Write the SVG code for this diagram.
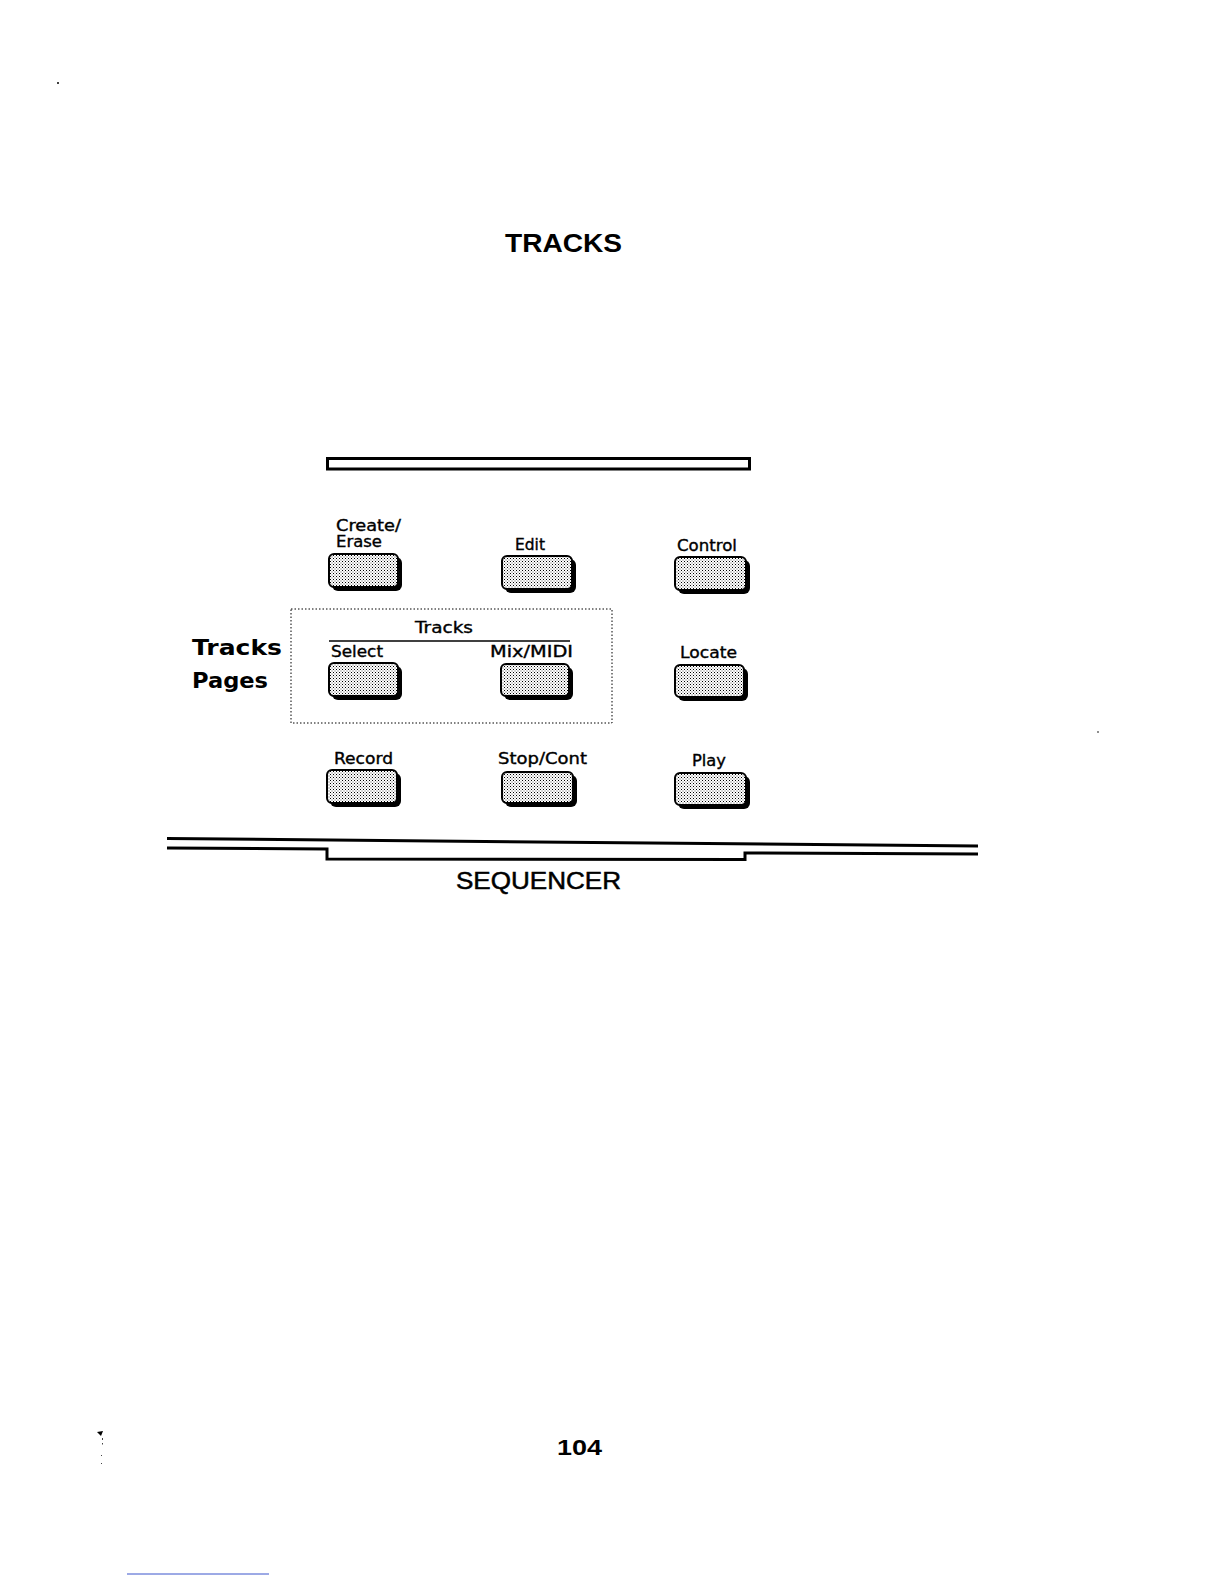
<svg xmlns="http://www.w3.org/2000/svg" width="1224" height="1584" viewBox="0 0 1224 1584">
<defs>
<pattern id="stip" patternUnits="userSpaceOnUse" width="3" height="3">
<rect width="3" height="3" fill="#ffffff"/>
<rect x="0" y="0" width="1" height="1" fill="#000"/>
<rect x="1.5" y="1.5" width="1" height="1" fill="#555"/>
</pattern>
<style>
.lbl{font-family:"DejaVu Sans","Liberation Sans",sans-serif;font-size:15px;fill:#000;stroke:#000;stroke-width:0.35;}
.big{font-family:"DejaVu Sans","Liberation Sans",sans-serif;font-weight:bold;font-size:21px;fill:#000;}
.title{font-family:"Liberation Sans",Arial,sans-serif;font-weight:bold;fill:#000;}
.btn{fill:url(#stip);stroke:#000;stroke-width:2;}
.shd{fill:#000;}
.bar{fill:none;stroke:#000;stroke-width:3;}
</style>
</defs>
<rect width="1224" height="1584" fill="#fff"/>

<text class="title" x="505" y="252" font-size="26" textLength="117" lengthAdjust="spacingAndGlyphs">TRACKS</text>

<g id="panel-frame">
<rect x="327.5" y="458.5" width="422" height="10.5" fill="#fff" stroke="#000" stroke-width="3"/>
</g>

<g id="create-erase">
<text class="lbl" x="336" y="531" textLength="65" lengthAdjust="spacingAndGlyphs">Create/</text>
<text class="lbl" x="336" y="547" textLength="46" lengthAdjust="spacingAndGlyphs">Erase</text>
<rect class="shd" x="332" y="557" width="70" height="34" rx="6"/>
<rect class="btn" x="329" y="554" width="69" height="33" rx="5"/>
</g>

<g id="edit">
<text class="lbl" x="515" y="550" textLength="30" lengthAdjust="spacingAndGlyphs">Edit</text>
<rect class="shd" x="505" y="559" width="71" height="34" rx="6"/>
<rect class="btn" x="502" y="556" width="70" height="33" rx="5"/>
</g>

<g id="control">
<text class="lbl" x="677" y="551" textLength="60" lengthAdjust="spacingAndGlyphs">Control</text>
<rect class="shd" x="678" y="560" width="72" height="34" rx="6"/>
<rect class="btn" x="675" y="557" width="71" height="33" rx="5"/>
</g>

<g id="tracks-pages">
<text class="big" x="192" y="655" textLength="90" lengthAdjust="spacingAndGlyphs">Tracks</text>
<text class="big" x="192" y="688" textLength="76" lengthAdjust="spacingAndGlyphs">Pages</text>
<rect x="291" y="609" width="321" height="114" fill="none" stroke="#000" stroke-width="1" stroke-dasharray="1.5 2"/>
<text class="lbl" x="415" y="633" textLength="58" lengthAdjust="spacingAndGlyphs">Tracks</text>
<line x1="329" y1="641" x2="570" y2="641" stroke="#000" stroke-width="1.5"/>
</g>

<g id="select">
<text class="lbl" x="331" y="657" textLength="52" lengthAdjust="spacingAndGlyphs">Select</text>
<rect class="shd" x="332" y="666" width="70" height="34" rx="6"/>
<rect class="btn" x="329" y="663" width="69" height="33" rx="5"/>
</g>

<g id="mix-midi">
<text class="lbl" x="490" y="657" textLength="83" lengthAdjust="spacingAndGlyphs">Mix/MIDI</text>
<rect class="shd" x="504" y="667" width="69" height="33" rx="6"/>
<rect class="btn" x="501" y="664" width="68" height="32" rx="5"/>
</g>

<g id="locate">
<text class="lbl" x="680" y="658" textLength="57" lengthAdjust="spacingAndGlyphs">Locate</text>
<rect class="shd" x="678" y="668" width="70" height="33" rx="6"/>
<rect class="btn" x="675" y="665" width="69" height="32" rx="5"/>
</g>

<g id="record">
<text class="lbl" x="334" y="764" textLength="59" lengthAdjust="spacingAndGlyphs">Record</text>
<rect class="shd" x="330" y="773" width="71" height="34" rx="6"/>
<rect class="btn" x="327" y="770" width="70" height="33" rx="5"/>
</g>

<g id="stop-cont">
<text class="lbl" x="498" y="764" textLength="89" lengthAdjust="spacingAndGlyphs">Stop/Cont</text>
<rect class="shd" x="505" y="775" width="72" height="32" rx="6"/>
<rect class="btn" x="502" y="772" width="71" height="31" rx="5"/>
</g>

<g id="play">
<text class="lbl" x="692" y="766" textLength="34" lengthAdjust="spacingAndGlyphs">Play</text>
<rect class="shd" x="678" y="776" width="72" height="33" rx="6"/>
<rect class="btn" x="675" y="773" width="71" height="32" rx="5"/>
</g>

<g id="connectors">
<path class="bar" d="M167,838.5 L978,846"/>
<path class="bar" d="M167,848 L327,849 L327,859 L745,859.5 L745,853 L978,854"/>
</g>

<g id="sequencer-label">
<text class="title" x="456" y="889" font-size="23" stroke="#000" stroke-width="0.5" textLength="165" lengthAdjust="spacingAndGlyphs" style="font-weight:normal">SEQUENCER</text>
</g>

<g id="page-number">
<text class="title" x="557" y="1455" font-size="22" textLength="45" lengthAdjust="spacingAndGlyphs">104</text>
</g>

<g id="marks">
<circle cx="58" cy="83" r="1" fill="#000"/>
<path d="M97,1432 L103,1431 L101,1436 Z" fill="#000"/>
<rect x="102" y="1438" width="1" height="2" fill="#444"/>
<rect x="102" y="1443" width="1" height="1.5" fill="#444"/>
<rect x="101" y="1455" width="1" height="1" fill="#444"/>
<rect x="101" y="1463" width="1" height="1" fill="#444"/>
<circle cx="1098" cy="732" r="0.8" fill="#000"/>
<line x1="127" y1="1574" x2="269" y2="1574" stroke="#3a55cc" stroke-width="1"/>
</g>
</svg>
